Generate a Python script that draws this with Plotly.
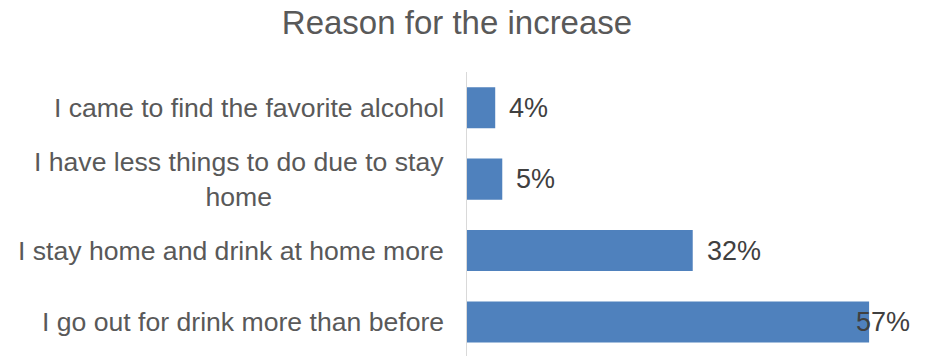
import plotly.graph_objects as go

# Survey answers, listed bottom-to-top as they appear on the axis
categories = [
    "I go out for drink more than before",
    "I stay home and drink at home more",
    "I have less things to do due to stay<br>home",
    "I came to find the favorite alcohol",
]
shares = [0.57, 0.32, 0.05, 0.04]
value_labels = ["57%", "32%", "5%", "4%"]

title_text = "Reason for the increase"

BAR_COLOR = "#4f81bd"
LABEL_COLOR = "#595959"
VALUE_COLOR = "#404040"
FONT = "Liberation Sans, Arial, sans-serif"

W, H = 926, 356
M_L, M_R, M_T, M_B = 467, 16, 72, 0
X_MAX = 0.628
CAT_FONT = 26.6
VAL_FONT = 27
VAL_GAP = 16

fig = go.Figure(
    go.Bar(
        x=shares,
        y=categories,
        orientation="h",
        marker=dict(color=BAR_COLOR, line=dict(width=0)),
        hoverinfo="skip",
    )
)

annotations = []
# Category labels, right-aligned against the axis with centered wrapped lines
for cat in categories:
    annotations.append(dict(
        x=0, xref="paper", y=cat, yref="y",
        text=cat, showarrow=False,
        xanchor="right", yanchor="middle", align="center",
        xshift=-21,
        font=dict(family=FONT, size=CAT_FONT, color=LABEL_COLOR),
    ))

# Value labels just past the bar end, pulled back inside the plot if they would overflow
px_per_unit = (W - M_L - M_R) / X_MAX
for cat, v, lab in zip(categories, shares, value_labels):
    est_width = len(lab) * VAL_FONT * 0.667
    end_px = v * px_per_unit + VAL_GAP + est_width
    if end_px <= (W - M_L - M_R) + 2:
        annotations.append(dict(
            x=v, xref="x", y=cat, yref="y", text=lab, showarrow=False,
            xanchor="left", yanchor="middle", xshift=VAL_GAP - 4,
            font=dict(family=FONT, size=VAL_FONT, color=VALUE_COLOR),
        ))
    else:
        annotations.append(dict(
            x=1, xref="paper", y=cat, yref="y", text=lab, showarrow=False,
            xanchor="right", yanchor="middle", xshift=2,
            font=dict(family=FONT, size=VAL_FONT, color=VALUE_COLOR),
        ))

fig.update_layout(
    width=W, height=H,
    margin=dict(l=M_L, r=M_R, t=M_T, b=M_B, pad=0),
    paper_bgcolor="white", plot_bgcolor="white",
    bargap=0.425,
    showlegend=False,
    title=dict(
        text=title_text,
        x=457 / W, xref="container", xanchor="center",
        y=1 - 22 / H, yref="container", yanchor="middle",
        font=dict(family=FONT, size=33, color=LABEL_COLOR),
    ),
    xaxis=dict(
        range=[0, X_MAX], visible=False, fixedrange=True,
    ),
    yaxis=dict(
        type="category", range=[-0.476, 3.5],
        showticklabels=False, ticks="",
        showline=True, linecolor="#d9d9d9", linewidth=1,
        showgrid=False, zeroline=False, fixedrange=True,
    ),
    annotations=annotations,
)

fig.write_html("out.html")
